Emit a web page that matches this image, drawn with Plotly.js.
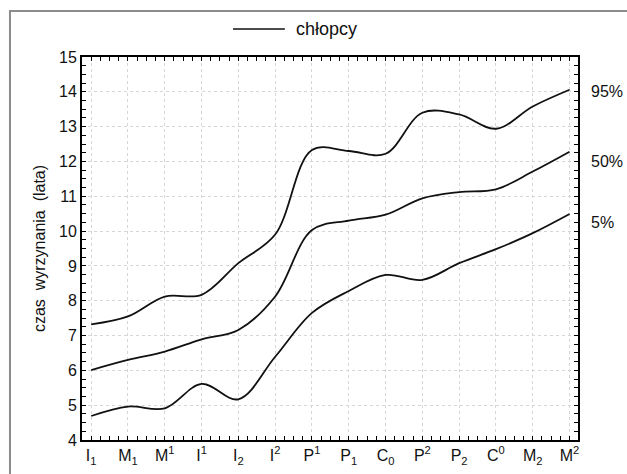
<!DOCTYPE html>
<html>
<head>
<meta charset="utf-8">
<script src="https://cdn.plot.ly/plotly-3.0.1.min.js"></script>
<style>html,body{margin:0;padding:0;background:#fff;}#chart{width:627px;height:474px;}</style>
</head>
<body>
<div id="chart"></div>
<script>
const teeth = ["I<sub>1</sub>","M<sub>1</sub>","M<sup>1</sup>","I<sup>1</sup>","I<sub>2</sub>","I<sup>2</sup>","P<sup>1</sup>","P<sub>1</sub>","C<sub>0</sub>","P<sup>2</sup>","P<sub>2</sub>","C<sup>0</sup>","M<sub>2</sub>","M<sup>2</sup>"];
const p95 = [7.32, 7.55, 8.12, 8.17, 9.08, 9.9, 12.33, 12.3, 12.22, 13.4, 13.35, 12.94, 13.58, 14.06];
const p50 = [6.01, 6.3, 6.54, 6.89, 7.16, 8.12, 10.03, 10.3, 10.47, 10.94, 11.12, 11.2, 11.71, 12.28];
const p5  = [4.69, 4.96, 4.91, 5.61, 5.17, 6.39, 7.65, 8.28, 8.74, 8.6, 9.08, 9.48, 9.94, 10.49];
const percentLabels = ["95%", "50%", "5%"];
const labelY = [14, 12, 10.25];
const legendName = "chłopcy";

const xs = teeth.map((t, i) => i);
const lineStyle = {color: "#111", width: 1.8, shape: "spline", smoothing: 1};
const traces = [p95, p50, p5].map((ys, k) => ({
  x: xs, y: ys, type: "scatter", mode: "lines", line: lineStyle,
  name: legendName, showlegend: false, hoverinfo: "skip"
}));

const fam = "Liberation Sans, Arial, sans-serif";
const font = {family: fam, size: 16, color: "#111"};
const axisCommon = {
  showline: true, linecolor: "#000", linewidth: 2, mirror: "ticks",
  ticks: "inside", ticklen: 4, tickwidth: 1, tickcolor: "#000",
  showgrid: true, gridcolor: "#d6d6d6", gridwidth: 1, griddash: "dot",
  zeroline: false, tickfont: font
};

const layout = {
  width: 627, height: 474,
  margin: {l: 82, r: 49, t: 57, b: 34},
  paper_bgcolor: "#fff", plot_bgcolor: "#fff",
  font: font,
  showlegend: false,
  xaxis: Object.assign({}, axisCommon, {
    range: [-0.25, 13.23], tickmode: "array", tickvals: xs, ticktext: teeth,
    minor: {dtick: 0.25, tick0: 0, ticks: "inside", ticklen: 4, tickcolor: "#000", showgrid: false}
  }),
  yaxis: Object.assign({}, axisCommon, {
    range: [4, 15], dtick: 1, tick0: 4,
    minor: {dtick: 0.25, tick0: 4, ticks: "inside", ticklen: 4, tickcolor: "#000", showgrid: false},
    title: {text: "czas  wyrzynania  (lata)", font: {family: fam, size: 16, color: "#111"}, standoff: 9}
  }),
  annotations: percentLabels.map((t, i) => ({
    text: t, xref: "paper", yref: "y", x: 1.022, y: labelY[i],
    xanchor: "left", yanchor: "middle", showarrow: false, font: font
  })).concat([{
    text: legendName, xref: "paper", yref: "paper", x: 0.428, y: 1.073,
    xanchor: "left", yanchor: "middle", showarrow: false, font: {family: fam, size: 18, color: "#111"}
  }]),
  shapes: [
    {type: "line", xref: "paper", yref: "paper", x0: 0.3044, x1: 0.409, y0: 1.073, y1: 1.073,
     line: {color: "#111", width: 1.5}},
    {type: "rect", xref: "paper", yref: "paper", x0: -0.1452, x1: 1.2, y0: -0.2, y1: 1.1201,
     line: {color: "#8c8c8c", width: 2}, layer: "below"}
  ]
};

Plotly.newPlot("chart", traces, layout, {displayModeBar: false, staticPlot: true});
</script>
</body>
</html>
